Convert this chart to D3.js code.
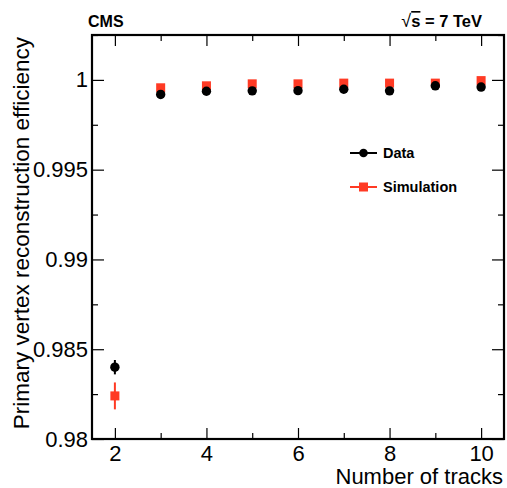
<!DOCTYPE html>
<html><head><meta charset="utf-8">
<script src="https://cdn.jsdelivr.net/npm/d3@7"></script>
<style>body{margin:0;background:#fff}svg{display:block}text{font-family:"Liberation Sans",Arial,sans-serif}</style>
</head><body>
<script>
const tracks = [2, 3, 4, 5, 6, 7, 8, 9, 10];
const dataEff = [0.9840, 0.99919, 0.99937, 0.99939, 0.99940, 0.99948, 0.99939, 0.99967, 0.99960];
const dataErr = [0.0004, 0.00005, 0.00003, 0.00003, 0.00003, 0.00003, 0.00003, 0.00003, 0.00003];
const simEff = [0.9824, 0.99956, 0.99967, 0.99978, 0.99978, 0.99982, 0.99982, 0.99982, 0.99996];
const simErr = [0.00075, 0.00005, 0.00003, 0.00003, 0.00003, 0.00003, 0.00003, 0.00003, 0.00003];
const xMajor = [2, 4, 6, 8, 10];
const yMajor = [0.98, 0.985, 0.99, 0.995, 1];
const yLabels = ["0.98", "0.985", "0.99", "0.995", "1"];

const W = 507, H = 488;
const m = {l: 92, r: 3, t: 35, b: 49};
const svg = d3.select("body").append("svg").attr("width", W).attr("height", H);
const x = d3.scaleLinear().domain([1.5, 10.5]).range([m.l, W - m.r]);
const y = d3.scaleLinear().domain([0.98, 1.0025]).range([H - m.b, m.t]);
const red = "#ff3a24";

const minorX = d3.range(2, 11, 1);
const minorY = d3.range(0, 5).map(i => 0.9825 + i * 0.005);

// bottom axis
const gB = svg.append("g").attr("transform", `translate(0,${H - m.b})`);
gB.call(d3.axisBottom(x).tickValues(xMajor).tickSize(-11).tickPadding(6).tickFormat(d3.format("d")));
gB.append("g").call(d3.axisBottom(x).tickValues(minorX.filter(v => v % 2)).tickSize(-6).tickFormat(""));
// top axis
const gT = svg.append("g").attr("transform", `translate(0,${m.t})`);
gT.call(d3.axisTop(x).tickValues(xMajor).tickSize(-11).tickFormat(""));
gT.append("g").call(d3.axisTop(x).tickValues(minorX.filter(v => v % 2)).tickSize(-6).tickFormat(""));
// left axis
const gL = svg.append("g").attr("transform", `translate(${m.l},0)`);
gL.call(d3.axisLeft(y).tickValues(yMajor).tickSize(-12).tickPadding(4).tickFormat((d, i) => yLabels[i]));
gL.append("g").call(d3.axisLeft(y).tickValues(minorY).tickSize(-6).tickFormat(""));
// right axis
const gR = svg.append("g").attr("transform", `translate(${W - m.r},0)`);
gR.call(d3.axisRight(y).tickValues(yMajor).tickSize(-12).tickFormat(""));
gR.append("g").call(d3.axisRight(y).tickValues(minorY).tickSize(-6).tickFormat(""));

svg.selectAll(".domain").remove();
svg.selectAll(".tick line").attr("stroke", "#000").attr("stroke-width", 1.2);
svg.selectAll(".tick text").attr("font-size", 22).attr("fill", "#000").style("font-family", "'Liberation Sans',Arial,sans-serif");

// frame
svg.append("rect").attr("x", m.l).attr("y", m.t).attr("width", W - m.r - m.l).attr("height", H - m.b - m.t)
  .attr("fill", "none").attr("stroke", "#000").attr("stroke-width", 2.2);

// simulation (drawn first)
const gs = svg.append("g");
tracks.forEach((t, i) => {
  gs.append("line").attr("x1", x(t)).attr("x2", x(t)).attr("y1", y(simEff[i] - simErr[i])).attr("y2", y(simEff[i] + simErr[i]))
    .attr("stroke", red).attr("stroke-width", 2);
  gs.append("rect").attr("x", x(t) - 4.5).attr("y", y(simEff[i]) - 4.5).attr("width", 9).attr("height", 9).attr("fill", red);
});
// data
const gd = svg.append("g");
tracks.forEach((t, i) => {
  gd.append("line").attr("x1", x(t)).attr("x2", x(t)).attr("y1", y(dataEff[i] - dataErr[i])).attr("y2", y(dataEff[i] + dataErr[i]))
    .attr("stroke", "#000").attr("stroke-width", 2);
  gd.append("circle").attr("cx", x(t)).attr("cy", y(dataEff[i])).attr("r", 4.7).attr("fill", "#000");
});

// legend
const leg = [{name: "Data", c: "#000", shape: "circle", yy: 153}, {name: "Simulation", c: red, shape: "rect", yy: 187}];
leg.forEach(d => {
  svg.append("line").attr("x1", 350).attr("x2", 377).attr("y1", d.yy).attr("y2", d.yy).attr("stroke", d.c).attr("stroke-width", 2);
  if (d.shape === "circle") svg.append("circle").attr("cx", 363.5).attr("cy", d.yy).attr("r", 4.3).attr("fill", d.c);
  else svg.append("rect").attr("x", 359).attr("y", d.yy - 4.5).attr("width", 9).attr("height", 9).attr("fill", d.c);
  svg.append("text").attr("x", 383).attr("y", d.yy + 5).attr("font-size", 14.5).attr("font-weight", "bold").text(d.name);
});

// header
svg.append("text").attr("x", 88).attr("y", 27).attr("font-size", 16).attr("font-weight", "bold").text("CMS");
const hdr = svg.append("text").attr("x", 482).attr("y", 27).attr("text-anchor", "end").attr("font-size", 16.5).attr("font-weight", "bold");
hdr.append("tspan").text("\u221A").attr("font-weight", "normal").attr("font-size", 18);
hdr.append("tspan").text("s").attr("text-decoration", "overline");
hdr.append("tspan").text(" = 7 TeV");

// axis titles
svg.append("text").attr("x", W - 4).attr("y", H - 4).attr("text-anchor", "end").attr("font-size", 22).text("Number of tracks");
svg.append("text").attr("transform", `translate(29,${m.t + 2}) rotate(-90)`).attr("text-anchor", "end").attr("font-size", 22.5)
  .text("Primary vertex reconstruction efficiency");
</script>
</body></html>
